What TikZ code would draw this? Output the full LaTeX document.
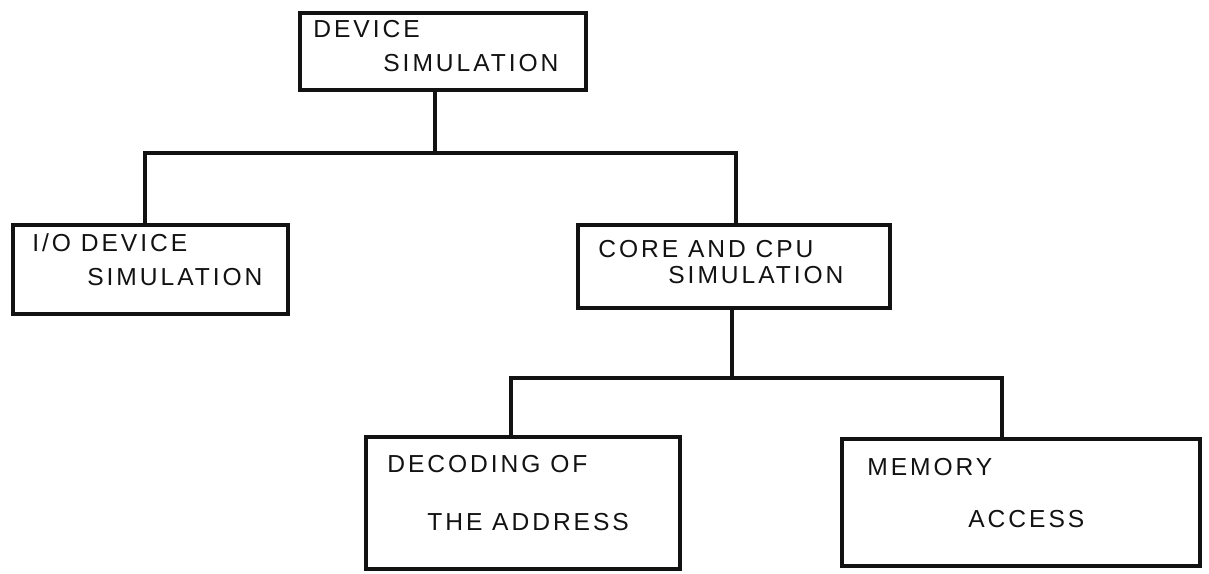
\documentclass[tikz,border=0pt]{standalone}
\usepackage{fontspec}
\setmainfont{Liberation Sans}
\usepackage{tikz}
\usetikzlibrary{positioning,calc}
\definecolor{ink}{HTML}{121212}
\definecolor{paper}{HTML}{FFFFFF}
\tikzset{
  sketchbox/.style={draw=ink,fill=paper,line width=2.7pt,inner sep=0pt},
  wire/.style={draw=ink,line width=2.8pt,line cap=rect},
  caps/.style={inner sep=0pt,anchor=base west,text=ink,
               font=\fontsize{14}{17}\selectfont\addfontfeature{LetterSpace=12}}
}

\begin{document}
\begin{tikzpicture}[x=0.02cm,y=-0.02cm]
    \path[use as bounding box] (0,0) rectangle (1209,574);
    % junction points of the two forks
    \coordinate (fork1) at (435,153);
    \coordinate (drop-io) at (145,153);
    \coordinate (drop-core) at (736,153);
    \coordinate (fork2) at (732,378);
    \coordinate (drop-dec) at (511,378);
    \coordinate (drop-mem) at (1002,378);
    % boxes
    \node[sketchbox,minimum width=5.72cm,minimum height=1.54cm] (dev) at (443,51.5) {};
    \node[sketchbox,minimum width=5.50cm,minimum height=1.78cm] (io) at (150.5,269.5) {};
    \node[sketchbox,minimum width=6.24cm,minimum height=1.66cm] (core) at (734,266.5) {};
    \node[sketchbox,minimum width=6.28cm,minimum height=2.64cm] (dec) at (523,503) {};
    \node[sketchbox,minimum width=7.16cm,minimum height=2.54cm] (mem) at (1021,502.5) {};
    % connectors
    \draw[wire] (dev.south -| fork1) -- (fork1);
    \draw[wire] (io.north -| drop-io) |- (drop-core) -- (core.north -| drop-core);
    \draw[wire] (core.south -| fork2) -- (fork2);
    \draw[wire] (dec.north -| drop-dec) |- (drop-mem) -- (mem.north -| drop-mem);
    % labels
    \node[caps] (dev-a) at (313,38) {DEVICE};
    \node[caps] (dev-b) at (383,72) {SIMULATION};
    \node[caps] (io-a) at (32,251) {I/O DEVICE};
    \node[caps] (io-b) at (87,285) {SIMULATION};
    \node[caps] (core-a) at (598,257) {CORE AND CPU};
    \node[caps] (core-b) at (668,283) {SIMULATION};
    \node[caps] (dec-a) at (387,472) {DECODING OF};
    \node[caps] (dec-b) at (427,530) {THE ADDRESS};
    \node[caps] (mem-a) at (867,475) {MEMORY};
    \node[caps] (mem-b) at (968,527) {ACCESS};
  \end{tikzpicture}
\end{document}
